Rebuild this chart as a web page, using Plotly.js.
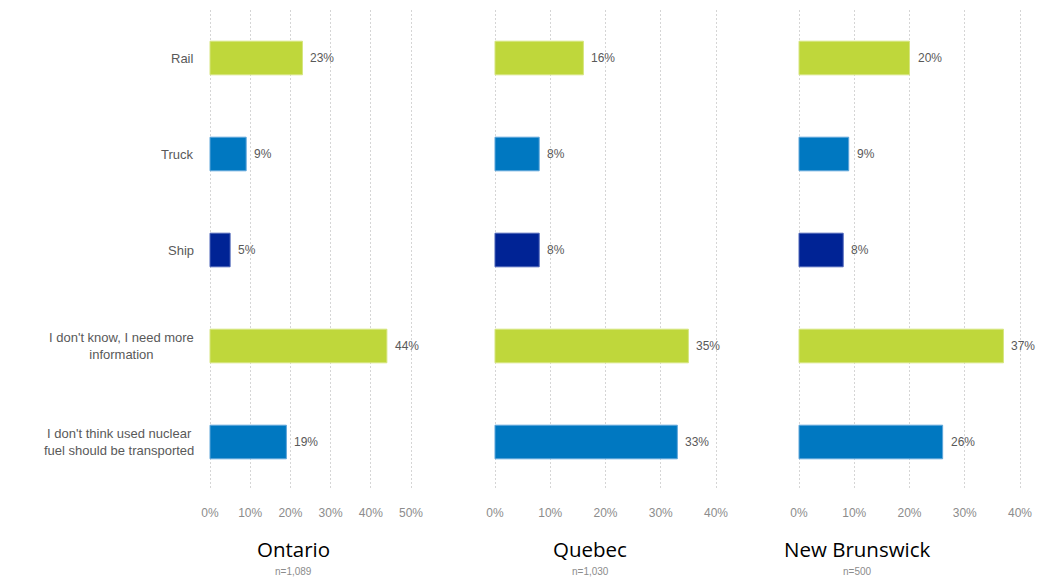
<!DOCTYPE html>
<html>
<head>
<meta charset="utf-8">
<script src="https://cdn.plot.ly/plotly-3.0.1.min.js"></script>
<style>html,body{margin:0;padding:0;background:#fff;}#chart{width:1042px;height:578px;}</style>
</head>
<body>
<div id="chart"></div>
<script>
const categories = ["Rail", "Truck", "Ship", "I don't know, I need more information", "I don't think used nuclear fuel should be transported"];
const categoryLabels = ["Rail", "Truck", "Ship", "I don't know, I need more<br>information", "I don't think used nuclear<br>fuel should be transported"];
const regions = ["Ontario", "Quebec", "New Brunswick"];
const sampleSizes = ["n=1,089", "n=1,030", "n=500"];
const ontario = [23, 9, 5, 44, 19];
const quebec = [16, 8, 8, 35, 33];
const newBrunswick = [20, 9, 8, 37, 26];
const ticksOntario = [0, 10, 20, 30, 40, 50];
const ticksOther = [0, 10, 20, 30, 40];

const W = 1042, H = 578;
const barColors = ["#BFD73B", "#0078C1", "#002395", "#BFD73B", "#0078C1"];
const lineColors = ["#D6E57F", "#5FA6DA", "#4A63B8", "#D6E57F", "#5FA6DA"];
const font = "Liberation Sans, Arial, sans-serif";

const series = [ontario, quebec, newBrunswick];
const pad = 0.8;
const xRanges = [[-pad, 50 + pad], [-pad, 40 + pad], [-pad, 40 + pad]];
const pxPer = [201 / 50, 221 / 40, 221 / 40];
const x0px = [210, 495, 799];
const xMaxV = [50, 40, 40];
const xDomains = x0px.map((p, i) => [(p - pad * pxPer[i]) / W, (p + (xMaxV[i] + pad) * pxPer[i]) / W]);
const tickSets = [ticksOntario, ticksOther, ticksOther];
const titleX = [293, 590, 857];

const traces = series.map((vals, i) => ({
  type: "bar",
  orientation: "h",
  x: vals,
  y: categories,
  base: 0,
  xaxis: i === 0 ? "x" : "x" + (i + 1),
  yaxis: "y",
  width: 0.35,
  marker: { color: barColors, line: { color: lineColors, width: 1 } },
  hoverinfo: "skip",
  showlegend: false
}));

const layout = {
  width: W, height: H,
  margin: { l: 0, r: 0, t: 0, b: 0 },
  paper_bgcolor: "#fff", plot_bgcolor: "rgba(0,0,0,0)",
  font: { family: font, color: "#595959", size: 12 },
  yaxis: {
    type: "category",
    categoryorder: "array", categoryarray: categories,
    range: [4.5, -0.5],
    domain: [1 - 490 / H, 1 - 10 / H],
    showticklabels: false, showgrid: false, zeroline: false, showline: false,
    anchor: "x"
  },
  annotations: []
};

for (let i = 0; i < 3; i++) {
  const key = i === 0 ? "xaxis" : "xaxis" + (i + 1);
  layout[key] = {
    domain: xDomains[i],
    range: xRanges[i],
    anchor: "y",
    tickvals: tickSets[i],
    ticktext: tickSets[i].map(v => v + "%"),
    ticks: "",
    ticklabelstandoff: 14,
    tickfont: { family: font, size: 12, color: "#8C8C8C" },
    showgrid: true,
    gridcolor: "#D5D5D5",
    gridwidth: 1,
    griddash: "2px,2px",
    zeroline: false,
    showline: false,
    fixedrange: true
  };
  const xr = i === 0 ? "x" : "x" + (i + 1);
  series[i].forEach((v, j) => {
    layout.annotations.push({
      x: v, y: categories[j], xref: xr, yref: "y",
      text: v + "%", showarrow: false, xanchor: "left", xshift: 6,
      font: { family: font, size: 12, color: "#595959" }
    });
  });
  layout.annotations.push({
    x: titleX[i] / W, y: 1 - 549 / H, xref: "paper", yref: "paper",
    text: regions[i], showarrow: false, xanchor: "center", yanchor: "middle",
    font: { family: "Open Sans, Liberation Sans, sans-serif", size: 20.5, color: "#000" }
  });
  layout.annotations.push({
    x: titleX[i] / W, y: 1 - 571 / H, xref: "paper", yref: "paper",
    text: sampleSizes[i], showarrow: false, xanchor: "center", yanchor: "middle",
    font: { family: font, size: 10, color: "#8C8C8C" }
  });
}

categoryLabels.forEach((lab, j) => {
  layout.annotations.push({
    x: 196 / W, y: categories[j], xref: "paper", yref: "y",
    text: lab, showarrow: false, xanchor: "right", align: "center",
    font: { family: font, size: 13, color: "#595959" }
  });
});

Plotly.newPlot("chart", traces, layout, { displayModeBar: false, staticPlot: true });
</script>
</body>
</html>
